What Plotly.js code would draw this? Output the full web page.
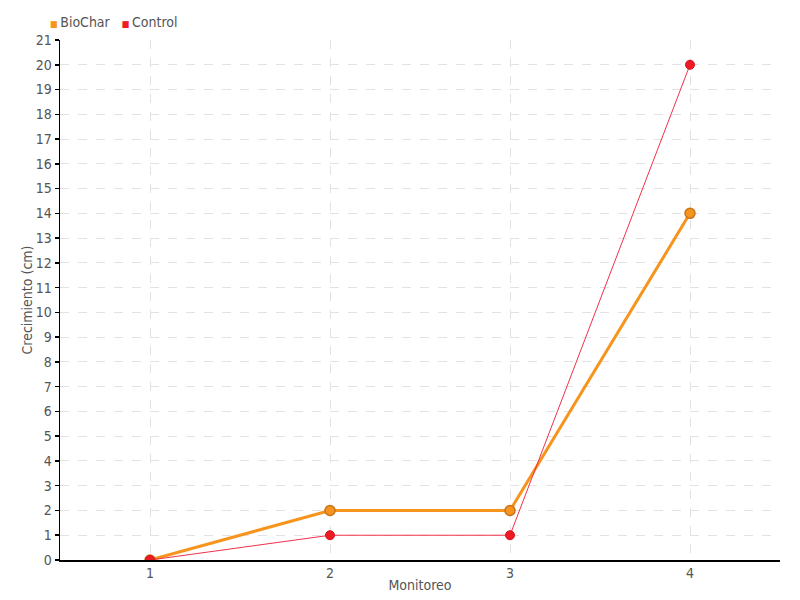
<!DOCTYPE html>
<html>
<head>
<meta charset="utf-8">
<script src="https://cdn.plot.ly/plotly-3.0.1.min.js"></script>
<style>html,body{margin:0;padding:0;background:#fff;}#chart{width:800px;height:600px;}</style>
</head>
<body>
<div id="chart"></div>
<script>
const monitoreo = [1, 2, 3, 4];
const biochar = [0, 2, 2, 14];
const control = [0, 1, 1, 20];
const yTicks = [0,1,2,3,4,5,6,7,8,9,10,11,12,13,14,15,16,17,18,19,20,21];
const seriesNames = ['BioChar', 'Control'];
const seriesColors = ['#f7941d', '#ed1c24'];

const fontFam = '"Liberation Sans Narrow", "DejaVu Sans Condensed", sans-serif';

const traces = [
  {
    x: monitoreo, y: biochar, name: seriesNames[0], type: 'scatter', mode: 'lines+markers',
    showlegend: false,
    line: {color: '#f7941d', width: 3},
    marker: {color: '#f7941d', size: 10, line: {color: '#c8731a', width: 1.5}}
  },
  {
    x: monitoreo, y: control, name: seriesNames[1], type: 'scatter', mode: 'lines+markers',
    showlegend: false,
    line: {color: '#f0314a', width: 1},
    marker: {color: '#ed1c24', size: 9, line: {color: '#d81020', width: 1}}
  }
];

const legendText = seriesNames.map((n, i) =>
  '<span style="color:' + seriesColors[i] + ';font-size:9px">■ </span>' + n).join('   ');

const layout = {
  width: 800, height: 600,
  margin: {l: 60, r: 20, t: 40, b: 40},
  paper_bgcolor: '#fff', plot_bgcolor: '#fff',
  font: {family: fontFam, color: '#555', size: 14},
  showlegend: false,
  annotations: [{
    text: legendText, xref: 'paper', yref: 'paper', x: -0.017, y: 1.035,
    xanchor: 'left', yanchor: 'middle', showarrow: false,
    font: {family: fontFam, size: 14, color: '#555'}
  }],
  xaxis: {
    range: [0.5, 4.5], tickvals: monitoreo, ticktext: monitoreo.map(String),
    showline: true, linecolor: '#000', linewidth: 1.5,
    ticks: '', ticklabelstandoff: 0,
    showgrid: true, gridcolor: '#e2e2e2', griddash: 'dash', gridwidth: 1,
    zeroline: false, tickfont: {family: fontFam, size: 14, color: '#555'},
    title: {text: 'Monitoreo', font: {family: fontFam, size: 14, color: '#555'}, standoff: 0}
  },
  yaxis: {
    range: [0, 21], tickvals: yTicks, ticktext: yTicks.map(String),
    showline: true, linecolor: '#000', linewidth: 1.5,
    ticks: 'outside', ticklen: 4, tickcolor: '#000', tickwidth: 1.5,
    showgrid: true, gridcolor: '#e2e2e2', griddash: 'dash', gridwidth: 1,
    zeroline: false, tickfont: {family: fontFam, size: 14, color: '#555'},
    title: {text: 'Crecimiento (cm)', font: {family: fontFam, size: 14, color: '#555'}, standoff: 0}
  }
};

Plotly.newPlot('chart', traces, layout, {displayModeBar: false, staticPlot: true});
</script>
</body>
</html>
